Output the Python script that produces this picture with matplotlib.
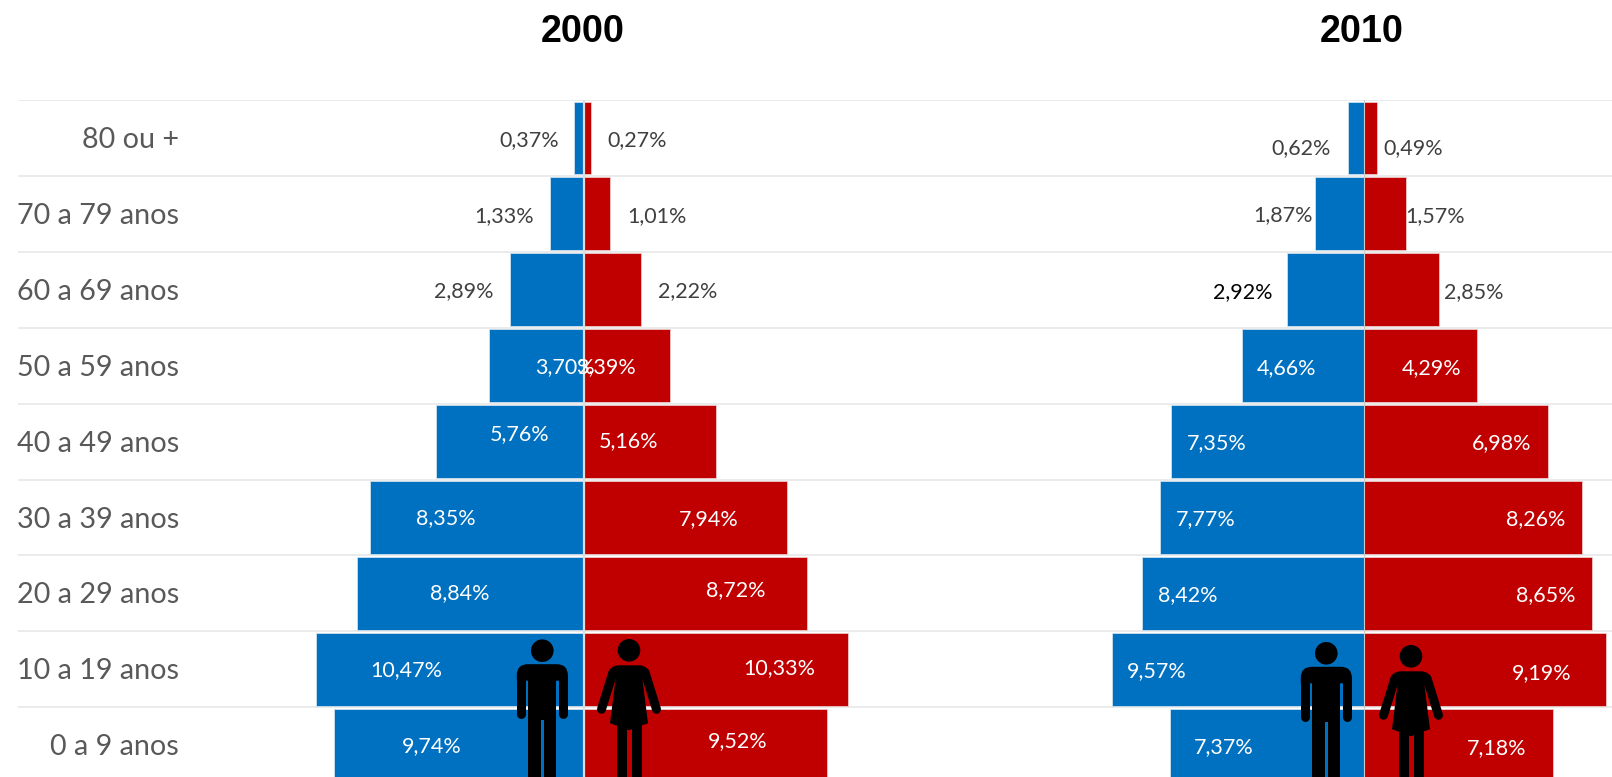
#!/usr/bin/env python3
# Piramide etaria 2000 x 2010

import matplotlib
matplotlib.use("Agg")
import matplotlib.pyplot as plt
from matplotlib.patches import Circle, Polygon, Rectangle, PathPatch
from matplotlib.path import Path

# data, top row first
faixas = ["80 ou +", "70 a 79 anos", "60 a 69 anos", "50 a 59 anos", "40 a 49 anos",
          "30 a 39 anos", "20 a 29 anos", "10 a 19 anos", "0 a 9 anos"]
homens_2000 = [0.37, 1.33, 2.89, 3.70, 5.76, 8.35, 8.84, 10.47, 9.74]
mulheres_2000 = [0.27, 1.01, 2.22, 3.39, 5.16, 7.94, 8.72, 10.33, 9.52]
homens_2010 = [0.62, 1.87, 2.92, 4.66, 7.35, 7.77, 8.42, 9.57, 7.37]
mulheres_2010 = [0.49, 1.57, 2.85, 4.29, 6.98, 8.26, 8.65, 9.19, 7.18]

# hand placed data labels: distance from centre (in %) and vertical shift (px)
lx_h_2000 = [2.14, 3.11, 4.68, 0.73, 2.50, 5.40, 4.84, 6.94, 5.92]
lx_m_2000 = [2.08, 2.85, 4.06, 0.87, 1.75, 4.87, 5.92, 7.64, 6.00]
lx_h_2010 = [2.40, 3.10, 4.63, 2.95, 5.60, 6.03, 6.70, 7.87, 5.33]
lx_m_2010 = [1.86, 2.67, 4.16, 2.56, 5.21, 6.50, 6.90, 6.74, 5.02]
dy_h_2000 = [2, 2, 1, 1, -7, 1, 0, 1, 1]
dy_m_2000 = [2, 2, 1, 1, 0, 2, -3, -1, -4]
dy_h_2010 = [10, 1, 2, 2, 2, 2, 2, 2, 2]
dy_m_2010 = [10, 2, 2, 2, 2, 2, 2, 4, 3]

W, H = 1612, 777
AZUL = "#0070C0"
VERMELHO = "#C00000"
GRADE = "#E8E8E8"
FONTE = "Lato"
LABEL_SIZE = 15.5

fig = plt.figure(figsize=(W / 100, H / 100), dpi=100, facecolor="white")


def make_axes(x0, x1, top, centre, px_per_pct):
    # axes placed in pixels, x in % with 0 on the centre line
    row_h = 75.9
    bottom = top + row_h * len(faixas)
    ax = fig.add_axes([x0 / W, 1 - bottom / H, (x1 - x0) / W, (bottom - top) / H])
    ax.set_xlim((x0 - centre) / px_per_pct, (x1 - centre) / px_per_pct)
    ax.set_ylim(len(faixas) - 0.5, -0.5)
    ax.axis("off")
    return ax


def pyramid(ax, homens, mulheres, lx_h, lx_m, dy_h, dy_m, eixo_cor, eixo_lw):
    rows = range(len(faixas))
    for i in range(len(faixas) + 1):
        ax.axhline(i - 0.5, color=GRADE, lw=1.2, zorder=1)
    ax.barh(rows, [-v for v in homens], height=0.96, color=AZUL, edgecolor="#DCE8F2", lw=0.5, zorder=2)
    ax.barh(rows, mulheres, height=0.96, color=VERMELHO, edgecolor="#F0D8D8", lw=0.5, zorder=2)
    ax.axvline(0, color=eixo_cor, lw=eixo_lw, zorder=3)
    for i in rows:
        for v, x, dy in ((homens[i], -lx_h[i], dy_h[i]), (mulheres[i], lx_m[i], dy_m[i])):
            # label is white when it sits on the bar
            cor = "white" if abs(x) < v else "#404040"
            ax.annotate(("%.2f%%" % v).replace(".", ","), (x, i), xytext=(0, -dy * 0.72),
                        textcoords="offset points", ha="center", va="center",
                        fontsize=LABEL_SIZE, family=FONTE, color=cor, zorder=5)


ax1 = make_axes(18, 985, 100, 583.7, 25.6)
pyramid(ax1, homens_2000, mulheres_2000, lx_h_2000, lx_m_2000, dy_h_2000, dy_m_2000, "#DDDDDD", 1.6)
ax2 = make_axes(985, W, 100, 1364.3, 26.35)
pyramid(ax2, homens_2010, mulheres_2010, lx_h_2010, lx_m_2010, dy_h_2010, dy_m_2010, "#C9C9C9", 0.8)

# this one label is black in the original
for t in ax2.texts:
    if t.get_text() == "2,92%":
        t.set_color("black")

for i, nome in enumerate(faixas):
    ax1.annotate(nome, ((179 - 583.7) / 25.6, i), xytext=(0, -1.5), textcoords="offset points",
                 ha="right", va="center", fontsize=20.7, family=FONTE, color="#595959", zorder=5)

fig.text(583 / W, 1 - 32.5 / H, "2000", ha="center", va="center", fontsize=27.2,
         fontweight="bold", family="Liberation Sans", color="black")
fig.text(1362 / W, 1 - 32.5 / H, "2010", ha="center", va="center", fontsize=27.2,
         fontweight="bold", family="Liberation Sans", color="black")

# overlay for the pictograms, in pixels
over = fig.add_axes([0, 0, 1, 1], facecolor="none")
over.set_xlim(0, W)
over.set_ylim(H, 0)
over.axis("off")


def shoulders(cx, top, half, low, r):
    # flat top, rounded outer corners
    verts = [(cx - half, low), (cx - half, top + r), (cx - half, top), (cx - half + r, top),
             (cx + half - r, top), (cx + half, top), (cx + half, top + r), (cx + half, low), (cx - half, low)]
    codes = [Path.MOVETO, Path.LINETO, Path.CURVE3, Path.CURVE3, Path.LINETO,
             Path.CURVE3, Path.CURVE3, Path.LINETO, Path.CLOSEPOLY]
    over.add_patch(PathPatch(Path(verts, codes), fc="black", ec="none", zorder=6))


def man(cx, y0):
    # cx = head centre x, y0 = head centre y
    over.add_patch(Circle((cx, y0), 11.3, color="black", lw=0, zorder=6))
    shoulders(cx, y0 + 13.5, 25.5, y0 + 30, 11)
    over.add_patch(Rectangle((cx - 14, y0 + 20), 28, 49, fc="black", ec="none", zorder=6))
    for dx in (-21, 21):
        over.plot([cx + dx, cx + dx], [y0 + 25, y0 + 63.5], color="black", lw=9 * 0.72,
                  solid_capstyle="round", zorder=6)
    over.add_patch(Rectangle((cx - 14, y0 + 68), 12.7, 80, fc="black", ec="none", zorder=6))
    over.add_patch(Rectangle((cx + 1.3, y0 + 68), 12.7, 80, fc="black", ec="none", zorder=6))


def woman(cx, y0):
    over.add_patch(Circle((cx, y0), 11.3, color="black", lw=0, zorder=6))
    shoulders(cx, y0 + 15, 20, y0 + 29, 10)
    over.add_patch(Polygon([(cx - 13, y0 + 25), (cx + 13, y0 + 25), (cx + 19, y0 + 73), (cx + 10, y0 + 76),
                            (cx, y0 + 80), (cx - 10, y0 + 76), (cx - 19, y0 + 73)],
                           fc="black", ec="none", zorder=6))
    for lado in (-1, 1):
        over.plot([cx + lado * 16, cx + lado * 27.5], [y0 + 22, y0 + 59], color="black", lw=9 * 0.72,
                  solid_capstyle="round", zorder=6)
    over.add_patch(Rectangle((cx - 12.5, y0 + 72), 10, 80, fc="black", ec="none", zorder=6))
    over.add_patch(Rectangle((cx + 2.5, y0 + 72), 10, 80, fc="black", ec="none", zorder=6))


man(542.3, 650.7)
woman(629, 650.3)
man(1326.3, 653.3)
woman(1411, 656.3)

fig.savefig("out.png", dpi=100)
